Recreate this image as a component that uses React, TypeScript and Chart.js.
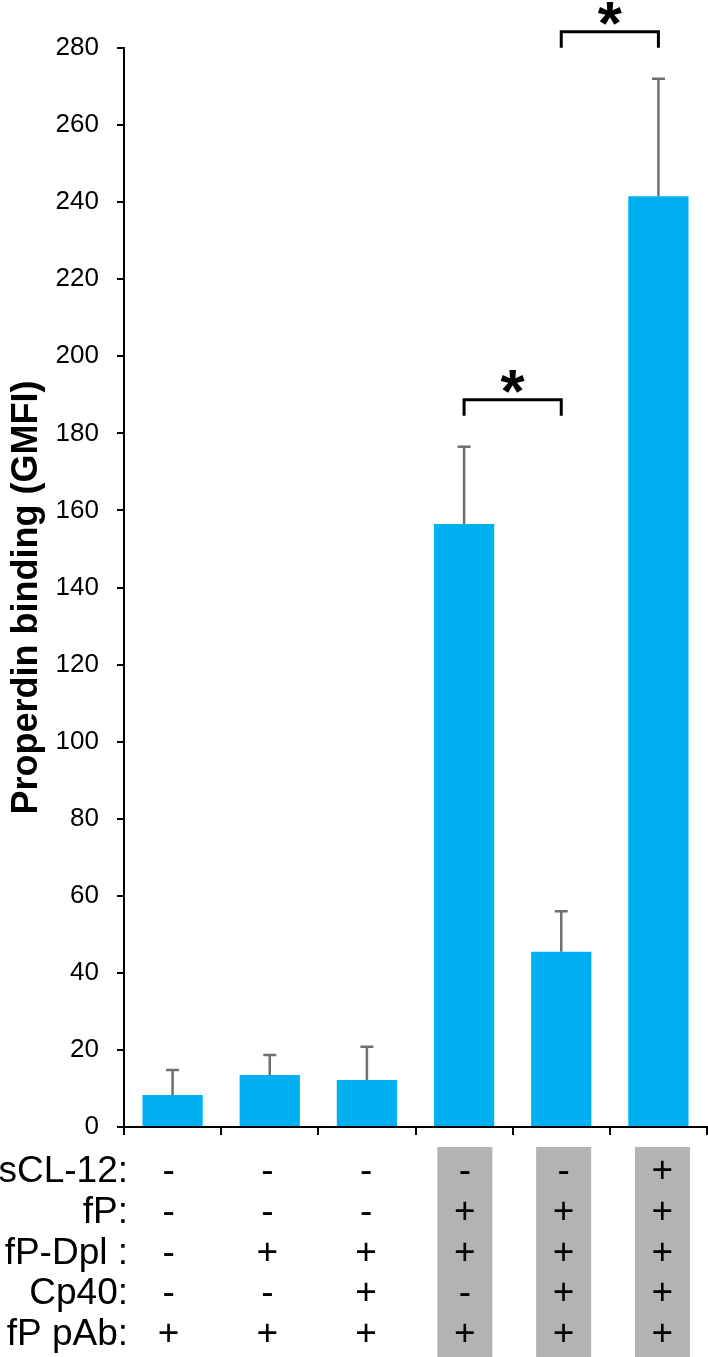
import React, { useEffect, useRef } from 'react';
import { Chart, registerables } from 'chart.js';

Chart.register(...registerables);

const FONT = "'Liberation Sans', Arial, Helvetica, sans-serif";

// ---- data ----
const categories = ['A', 'B', 'C', 'D', 'E', 'F'];
const bindingValues = [8.3, 13.5, 12.2, 156.5, 45.5, 241.5];
const errorUpper = [6.5, 5.2, 8.6, 20.0, 10.5, 30.5];
const yMin = 0;
const yMax = 280;
const yStep = 20;
const yTitle = 'Properdin binding (GMFI)';
const rowLabels = ['sCL-12:', 'fP:', 'fP-Dpl :', 'Cp40:', 'fP pAb:'];
const rowSCL12 = ['-', '-', '-', '-', '-', '+'];
const rowFP = ['-', '-', '-', '+', '+', '+'];
const rowFPDpl = ['-', '+', '+', '+', '+', '+'];
const rowCp40 = ['-', '-', '+', '-', '+', '+'];
const rowFPpAb = ['+', '+', '+', '+', '+', '+'];
const tableRows = [rowSCL12, rowFP, rowFPDpl, rowCp40, rowFPpAb];
const shadedColumns = [3, 4, 5];
const significancePairs = [
  [3, 4],
  [4, 5],
];
const significanceMark = '*';

const overlayPlugin = {
  id: 'overlay',
  afterDatasetsDraw(chart: any) {
    const ctx = chart.ctx as CanvasRenderingContext2D;
    const meta = chart.getDatasetMeta(0);
    const y = chart.scales.y;
    ctx.save();
    // error bars
    ctx.strokeStyle = '#6f6f6f';
    ctx.lineWidth = 2.5;
    meta.data.forEach((bar: any, i: number) => {
      const base = y.getPixelForValue(bindingValues[i]);
      const top = y.getPixelForValue(bindingValues[i] + errorUpper[i]);
      ctx.beginPath();
      ctx.moveTo(bar.x, base);
      ctx.lineTo(bar.x, top);
      ctx.moveTo(bar.x - 6.5, top);
      ctx.lineTo(bar.x + 6.5, top);
      ctx.stroke();
    });
    // significance brackets
    significancePairs.forEach(([a, b]) => {
      const xa = meta.data[a].x;
      const xb = meta.data[b].x;
      const errTop = Math.min(
        y.getPixelForValue(bindingValues[a] + errorUpper[a]),
        y.getPixelForValue(bindingValues[b] + errorUpper[b])
      );
      const legBottom = errTop - 31;
      const hor = errTop - 47;
      const starCenter = errTop - 65;
      ctx.strokeStyle = '#000';
      ctx.lineWidth = 3;
      ctx.lineJoin = 'miter';
      ctx.lineCap = 'butt';
      ctx.beginPath();
      ctx.moveTo(xa, legBottom);
      ctx.lineTo(xa, hor);
      ctx.lineTo(xb, hor);
      ctx.lineTo(xb, legBottom);
      ctx.stroke();
      ctx.fillStyle = '#000';
      ctx.font = `bold 62px ${FONT}`;
      ctx.textAlign = 'center';
      ctx.textBaseline = 'alphabetic';
      const m = ctx.measureText(significanceMark);
      const base = starCenter + (m.actualBoundingBoxAscent - m.actualBoundingBoxDescent) / 2;
      ctx.fillText(significanceMark, (xa + xb) / 2, base);
    });
    ctx.restore();
  },
  afterDraw(chart: any) {
    const ctx = chart.ctx as CanvasRenderingContext2D;
    const x = chart.scales.x;
    const area = chart.chartArea;
    const H = chart.height;
    ctx.save();
    // y-axis title
    ctx.fillStyle = '#000';
    ctx.font = `bold 36px ${FONT}`;
    ctx.textAlign = 'center';
    ctx.textBaseline = 'alphabetic';
    ctx.translate(37, (area.top + area.bottom) / 2 + 10);
    ctx.rotate(-Math.PI / 2);
    ctx.fillText(yTitle, 0, 0);
    ctx.setTransform(chart.currentDevicePixelRatio, 0, 0, chart.currentDevicePixelRatio, 0, 0);

    // table columns (slightly wider spacing than bars)
    const c0 = x.getPixelForValue(0);
    const cN = x.getPixelForValue(categories.length - 1);
    const mid = (c0 + cN) / 2;
    const colX = categories.map((_, i) => mid + (x.getPixelForValue(i) - mid) * 1.0165);

    // shaded columns
    ctx.fillStyle = '#b3b3b3';
    shadedColumns.forEach((i) => {
      ctx.fillRect(colX[i] - 27.5, area.bottom + 20, 55, H - (area.bottom + 20));
    });

    // row labels and symbols
    ctx.fillStyle = '#000';
    ctx.font = `37px ${FONT}`;
    ctx.textBaseline = 'alphabetic';
    const firstBase = area.bottom + 55;
    const rowGap = 40.8;
    rowLabels.forEach((label, r) => {
      const by = firstBase + r * rowGap;
      ctx.textAlign = 'right';
      ctx.fillText(label, 128, by);
      ctx.textAlign = 'center';
      tableRows[r].forEach((s, i) => {
        ctx.fillText(s, colX[i], by);
      });
    });
    ctx.restore();
  },
};

export default function App() {
  const ref = useRef<HTMLCanvasElement | null>(null);
  useEffect(() => {
    if (!ref.current) return;
    const chart = new Chart(ref.current, {
      type: 'bar',
      data: {
        labels: categories,
        datasets: [
          {
            data: bindingValues,
            backgroundColor: '#00b0f0',
            borderWidth: 0,
            barPercentage: 0.62,
            categoryPercentage: 1,
          },
        ],
      },
      options: {
        animation: false,
        responsive: false,
        devicePixelRatio: window.devicePixelRatio || 1,
        layout: { padding: { top: 48, right: 1, left: 0, bottom: 0 } },
        plugins: {
          legend: { display: false },
          tooltip: { enabled: false },
          title: { display: false },
        },
        scales: {
          x: {
            offset: true,
            grid: {
              offset: true,
              drawOnChartArea: false,
              drawTicks: true,
              tickLength: 8,
              color: '#000',
              lineWidth: 2,
            },
            border: { color: '#000', width: 2 },
            ticks: { callback: () => '', padding: 0 },
            afterFit: (s: any) => {
              s.height = 1357 - 1127;
            },
          },
          y: {
            min: yMin,
            max: yMax,
            ticks: {
              stepSize: yStep,
              color: '#000',
              padding: 18,
              font: { family: FONT, size: 26 },
            },
            grid: {
              drawOnChartArea: false,
              drawTicks: true,
              tickLength: 7,
              color: '#000',
              lineWidth: 2,
            },
            border: { color: '#000', width: 2 },
            afterFit: (s: any) => {
              s.width = 124;
            },
          },
        },
      },
      plugins: [overlayPlugin],
    });
    return () => chart.destroy();
  }, []);
  return (
    <div style={{ position: 'absolute', left: 0, top: 0, width: 708, height: 1357 }}>
      <canvas ref={ref} width={708} height={1357} style={{ width: 708, height: 1357, display: 'block' }} />
    </div>
  );
}
